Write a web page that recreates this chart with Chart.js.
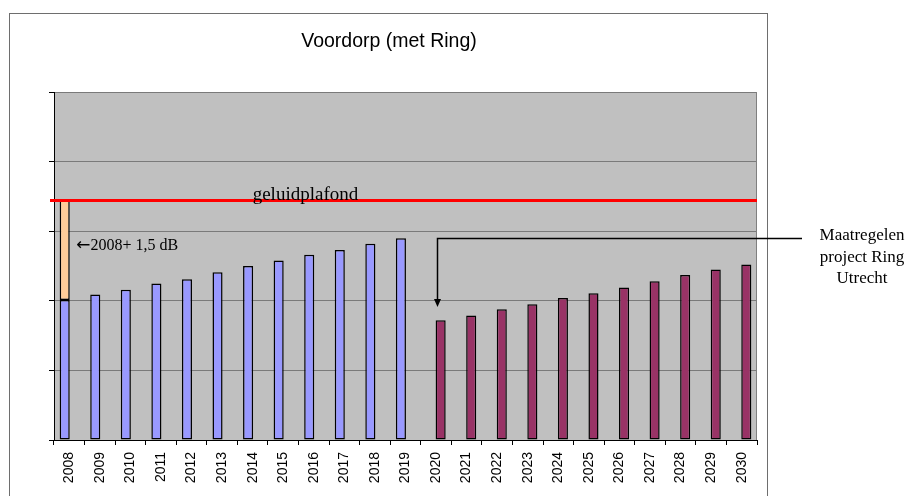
<!DOCTYPE html>
<html>
<head>
<meta charset="utf-8">
<script src="https://cdn.jsdelivr.net/npm/chart.js@4"></script>
<style>
  html, body { margin: 0; padding: 0; background: #fff; }
  canvas { display: block; }
</style>
</head>
<body>
<canvas id="chart" width="906" height="496"></canvas>
<script>
// values (one grid step = 1 unit, no axis labels shown)
const years = ['2008', '2009', '2010', '2011', '2012', '2013', '2014', '2015', '2016', '2017', '2018', '2019',
  '2020', '2021', '2022', '2023', '2024', '2025', '2026', '2027', '2028', '2029', '2030'];
const zonderRing = [2.01, 2.09, 2.16, 2.25, 2.31, 2.41, 2.50, 2.58, 2.66, 2.73, 2.82, 2.90,
  null, null, null, null, null, null, null, null, null, null, null];
const metRing = [null, null, null, null, null, null, null, null, null, null, null, null,
  1.72, 1.79, 1.88, 1.95, 2.04, 2.11, 2.19, 2.28, 2.37, 2.45, 2.52];
const geluidplafond = 3.44;
const ruimte = [[2.01, geluidplafond], null, null, null, null, null, null, null, null, null, null, null,
  null, null, null, null, null, null, null, null, null, null, null];

const title = 'Voordorp (met Ring)';
const serif = '"Liberation Serif", "Times New Roman", serif';
const sans = '"Liberation Sans", Arial, sans-serif';

// frame, plot background, plafond line, texts and arrow
const annotations = {
    id: 'annotations',
    beforeDraw(chart) {
        const { ctx, chartArea: a } = chart;
        ctx.save();
        ctx.fillStyle = '#fff';
        ctx.fillRect(0, 0, chart.width, chart.height);
        ctx.strokeStyle = '#6e6e6e';
        ctx.lineWidth = 1;
        ctx.strokeRect(9.5, 13.5, 758, chart.height);
        ctx.fillStyle = '#c0c0c0';
        ctx.fillRect(a.left, a.top, a.right - a.left, a.bottom - a.top);
        ctx.fillStyle = '#000';
        ctx.font = '19.5px ' + sans;
        ctx.textAlign = 'center';
        ctx.textBaseline = 'middle';
        ctx.fillText(title, 389, 42);
        ctx.restore();
    },
    afterDatasetsDraw(chart) {
        const { ctx, chartArea: a, scales: { x, y } } = chart;
        ctx.save();
        // right edge of the plot area
        ctx.strokeStyle = '#808080';
        ctx.lineWidth = 1;
        ctx.beginPath();
        ctx.moveTo(a.right - 0.5, a.top);
        ctx.lineTo(a.right - 0.5, a.bottom);
        ctx.stroke();

        // geluidplafond
        const yp = y.getPixelForValue(geluidplafond);
        ctx.strokeStyle = '#ff0000';
        ctx.lineWidth = 3;
        ctx.beginPath();
        ctx.moveTo(a.left - 4, yp);
        ctx.lineTo(a.right, yp);
        ctx.stroke();

        ctx.fillStyle = '#000';
        ctx.font = '19px ' + serif;
        ctx.textAlign = 'left';
        ctx.textBaseline = 'alphabetic';
        ctx.fillText('geluidplafond', x.getPixelForValue(6), yp - 1);

        // 2008 + 1,5 dB label with a wide arrow glyph
        const lx = x.getPixelForValue(0) + 7;
        const ly = y.getPixelForValue(2.79);
        ctx.textBaseline = 'middle';
        ctx.font = '17px "DejaVu Sans", sans-serif';
        ctx.fillText('\u2190', lx, ly);
        const aw = ctx.measureText('\u2190').width;
        ctx.font = '16px ' + serif;
        ctx.fillText('2008+ 1,5 dB', lx + aw, ly);

        // arrow to 2020
        const ax = Math.round(x.getPixelForValue(12)) + 1.5;
        const ay = Math.round(y.getPixelForValue(2.9)) + 0.5;
        const tip = y.getPixelForValue(1.91);
        ctx.strokeStyle = '#000';
        ctx.lineWidth = 1.5;
        ctx.beginPath();
        ctx.moveTo(a.right + 45, ay);
        ctx.lineTo(ax, ay);
        ctx.lineTo(ax, tip - 6);
        ctx.stroke();
        ctx.beginPath();
        ctx.moveTo(ax - 3.5, tip - 8);
        ctx.lineTo(ax + 3.5, tip - 8);
        ctx.lineTo(ax, tip);
        ctx.closePath();
        ctx.fill();

        ctx.font = '17px ' + serif;
        ctx.textAlign = 'center';
        const tx = a.right + 105;
        ctx.fillText('Maatregelen', tx, 236);
        ctx.fillText('project Ring', tx, 258);
        ctx.fillText('Utrecht', tx, 279);
        ctx.restore();
    }
};

const barStyle = {
    borderColor: '#000', borderWidth: 1.5, borderSkipped: false,
    categoryPercentage: 0.6, barPercentage: 1.1
};

new Chart(document.getElementById('chart'), {
    type: 'bar',
    data: {
        labels: years,
        datasets: [
            { label: 'zonder Ring', data: zonderRing, backgroundColor: '#9999ff', stack: 'a', ...barStyle },
            { label: 'met Ring', data: metRing, backgroundColor: '#993366', stack: 'b', ...barStyle },
            { label: '2008 + 1,5 dB', data: ruimte, backgroundColor: '#ffcc99', stack: 'a', ...barStyle }
        ]
    },
    options: {
        responsive: false,
        animation: false,
        layout: { padding: { left: 49, right: 149, top: 92, bottom: 0 } },
        plugins: {
            legend: { display: false },
            title: { display: false },
            tooltip: { enabled: false }
        },
        scales: {
            x: {
                grid: { drawOnChartArea: false, drawTicks: true, tickLength: 5, tickColor: '#000', offset: true },
                border: { color: '#000', width: 1 },
                ticks: {
                    autoSkip: false, minRotation: 90, maxRotation: 90, padding: 7, color: '#000',
                    font: { family: sans, size: 14 }
                },
                afterFit: (s) => { s.height = 56; }
            },
            y: {
                stacked: false,
                min: 0,
                max: 5,
                grid: { color: '#7a7a7a', tickColor: '#000', tickLength: 5 },
                border: { color: '#000', width: 1 },
                ticks: { display: false, stepSize: 1 },
                afterFit: (s) => { s.width = 5; }
            }
        }
    },
    plugins: [annotations]
});
</script>
</body>
</html>
